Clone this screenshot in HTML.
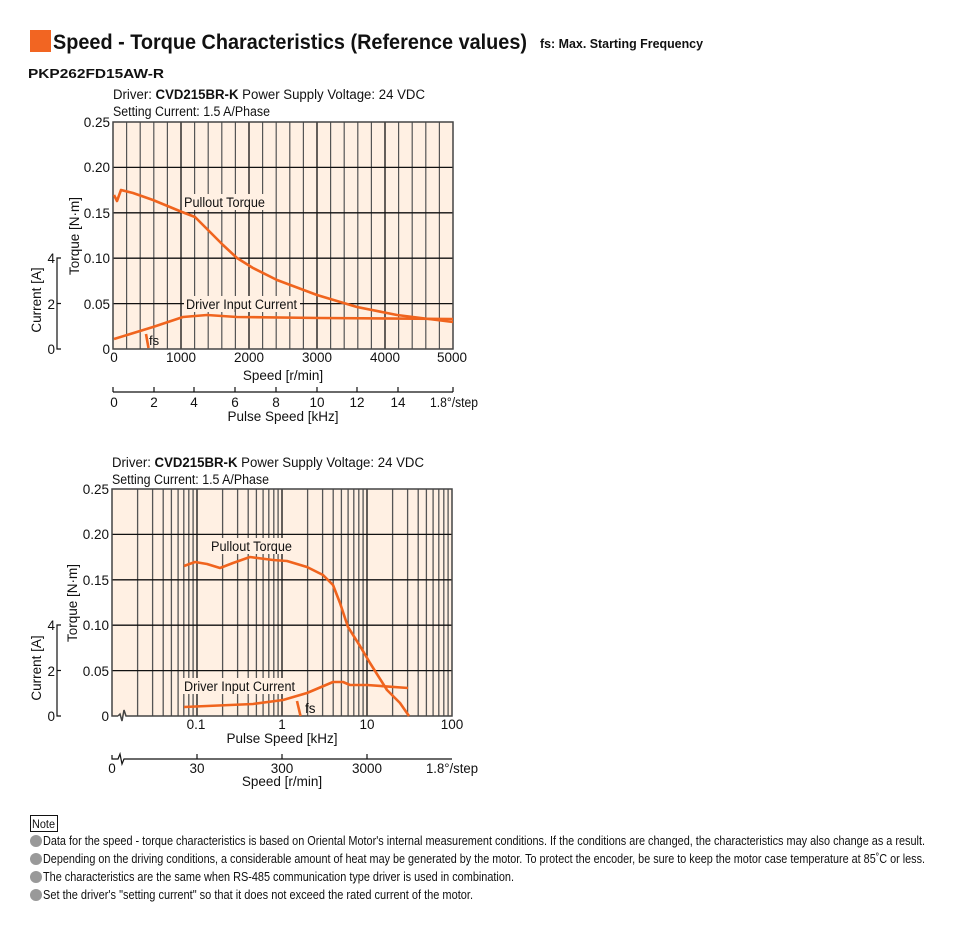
<!DOCTYPE html>
<html><head><meta charset="utf-8"><style>
html,body{margin:0;padding:0;background:#fff;}
svg{display:block;}
text{font-family:"Liberation Sans Narrow","Liberation Sans",sans-serif;fill:#111;}
</style></head><body>
<svg width="954" height="930" viewBox="0 0 954 930" xmlns="http://www.w3.org/2000/svg">
<!-- header -->
<rect x="30" y="30" width="21" height="22" fill="#f26522"/>
<text x="53" y="49" font-size="21" font-weight="bold" textLength="474" lengthAdjust="spacingAndGlyphs">Speed - Torque Characteristics (Reference values)</text>
<text x="540" y="48" font-size="13" font-weight="bold" textLength="163" lengthAdjust="spacingAndGlyphs">fs: Max. Starting Frequency</text>
<text x="28" y="78" font-size="13" font-weight="bold" style="font-family:'Liberation Sans',sans-serif" textLength="136" lengthAdjust="spacingAndGlyphs">PKP262FD15AW-R</text>

<!-- ============ TOP CHART ============ -->
<g font-size="13.5">
<text x="113" y="99" textLength="312" lengthAdjust="spacingAndGlyphs">Driver: <tspan font-weight="bold" style="font-family:'Liberation Sans',sans-serif">CVD215BR-K</tspan>  Power Supply Voltage: 24 VDC</text>
<text x="113" y="116" textLength="157" lengthAdjust="spacingAndGlyphs">Setting Current: 1.5 A/Phase</text>
</g>
<rect x="113" y="122" width="340" height="227" fill="#fff0e3"/>
<g stroke="#555" stroke-width="1.2">
<line x1="126.6" y1="122" x2="126.6" y2="349"/><line x1="140.2" y1="122" x2="140.2" y2="349"/><line x1="153.8" y1="122" x2="153.8" y2="349"/><line x1="167.4" y1="122" x2="167.4" y2="349"/>
<line x1="194.6" y1="122" x2="194.6" y2="349"/><line x1="208.2" y1="122" x2="208.2" y2="349"/><line x1="221.8" y1="122" x2="221.8" y2="349"/><line x1="235.4" y1="122" x2="235.4" y2="349"/>
<line x1="262.6" y1="122" x2="262.6" y2="349"/><line x1="276.2" y1="122" x2="276.2" y2="349"/><line x1="289.8" y1="122" x2="289.8" y2="349"/><line x1="303.4" y1="122" x2="303.4" y2="349"/>
<line x1="330.6" y1="122" x2="330.6" y2="349"/><line x1="344.2" y1="122" x2="344.2" y2="349"/><line x1="357.8" y1="122" x2="357.8" y2="349"/><line x1="371.4" y1="122" x2="371.4" y2="349"/>
<line x1="398.6" y1="122" x2="398.6" y2="349"/><line x1="412.2" y1="122" x2="412.2" y2="349"/><line x1="425.8" y1="122" x2="425.8" y2="349"/><line x1="439.4" y1="122" x2="439.4" y2="349"/>
</g>
<g stroke="#111" stroke-width="1.3">
<line x1="181" y1="122" x2="181" y2="349"/><line x1="249" y1="122" x2="249" y2="349"/><line x1="317" y1="122" x2="317" y2="349"/><line x1="385" y1="122" x2="385" y2="349"/>
<line x1="113" y1="167.4" x2="453" y2="167.4"/><line x1="113" y1="212.8" x2="453" y2="212.8"/><line x1="113" y1="258.2" x2="453" y2="258.2"/><line x1="113" y1="303.6" x2="453" y2="303.6"/>
</g>
<rect x="113" y="122" width="340" height="227" fill="none" stroke="#444" stroke-width="1.5"/>
<rect x="182" y="194" width="86" height="16" fill="#fff0e3"/>
<text x="184" y="207" font-size="13.5" textLength="81" lengthAdjust="spacingAndGlyphs">Pullout Torque</text>
<rect x="184" y="296" width="116" height="16" fill="#fff0e3"/>
<text x="186" y="309" font-size="13.5" textLength="111" lengthAdjust="spacingAndGlyphs">Driver Input Current</text>
<text x="149" y="345" font-size="13">fs</text>
<g fill="none" stroke="#f0641e" stroke-width="2.6" stroke-linejoin="round">
<polyline points="114,195 117,201 121,190 133,193 153,200 182,212 195,217 210,232 223,245 237,258 253,268 277,280 317,295 357,307 397,315 453,322"/>
<polyline points="114,339 153,327 183,317 207,315 237,317 320,318 453,319"/>
<line x1="146" y1="334" x2="148.5" y2="348"/>
</g>
<g font-size="13.5" text-anchor="end">
<text x="110" y="127">0.25</text><text x="110" y="172">0.20</text><text x="110" y="218">0.15</text><text x="110" y="263">0.10</text><text x="110" y="309">0.05</text><text x="110" y="354">0</text>
</g>
<g font-size="13.5" text-anchor="middle">
<text x="114" y="362">0</text><text x="181" y="362">1000</text><text x="249" y="362">2000</text><text x="317" y="362">3000</text><text x="385" y="362">4000</text><text x="452" y="362">5000</text>
<text x="283" y="380">Speed [r/min]</text>
</g>
<g stroke="#111" stroke-width="1.2">
<line x1="113" y1="392" x2="453" y2="392"/>
<line x1="113" y1="392" x2="113" y2="387"/><line x1="154" y1="392" x2="154" y2="387"/><line x1="194" y1="392" x2="194" y2="387"/><line x1="235" y1="392" x2="235" y2="387"/><line x1="276" y1="392" x2="276" y2="387"/><line x1="317" y1="392" x2="317" y2="387"/><line x1="357" y1="392" x2="357" y2="387"/><line x1="398" y1="392" x2="398" y2="387"/><line x1="453" y1="392" x2="453" y2="387"/>
</g>
<g font-size="13.5" text-anchor="middle">
<text x="114" y="407">0</text><text x="154" y="407">2</text><text x="194" y="407">4</text><text x="235" y="407">6</text><text x="276" y="407">8</text><text x="317" y="407">10</text><text x="357" y="407">12</text><text x="398" y="407">14</text>
<text x="283" y="421">Pulse Speed [kHz]</text>
</g>
<text x="430" y="407" font-size="13.5" textLength="48" lengthAdjust="spacingAndGlyphs">1.8°/step</text>
<text transform="translate(79,236) rotate(-90)" font-size="13.5" text-anchor="middle">Torque [N·m]</text>
<text transform="translate(41,300) rotate(-90)" font-size="13.5" text-anchor="middle">Current [A]</text>
<g stroke="#111" stroke-width="1.2" fill="none"><polyline points="61,258 57,258 57,349 61,349"/><line x1="57" y1="303.5" x2="61" y2="303.5"/></g>
<g font-size="13.5" text-anchor="end"><text x="55" y="263">4</text><text x="55" y="309">2</text><text x="55" y="354">0</text></g>

<!-- ============ BOTTOM CHART ============ -->
<g font-size="13.5">
<text x="112" y="467" textLength="312" lengthAdjust="spacingAndGlyphs">Driver: <tspan font-weight="bold" style="font-family:'Liberation Sans',sans-serif">CVD215BR-K</tspan>  Power Supply Voltage: 24 VDC</text>
<text x="112" y="484" textLength="157" lengthAdjust="spacingAndGlyphs">Setting Current: 1.5 A/Phase</text>
</g>
<rect x="112" y="489" width="340" height="227" fill="#fff0e3"/>
<g stroke="#555" stroke-width="1.3">
<line x1="137.6" y1="489" x2="137.6" y2="716"/><line x1="152.6" y1="489" x2="152.6" y2="716"/><line x1="163.2" y1="489" x2="163.2" y2="716"/><line x1="171.4" y1="489" x2="171.4" y2="716"/><line x1="178.1" y1="489" x2="178.1" y2="716"/><line x1="183.8" y1="489" x2="183.8" y2="716"/><line x1="188.8" y1="489" x2="188.8" y2="716"/><line x1="193.1" y1="489" x2="193.1" y2="716"/>
<line x1="222.6" y1="489" x2="222.6" y2="716"/><line x1="237.6" y1="489" x2="237.6" y2="716"/><line x1="248.2" y1="489" x2="248.2" y2="716"/><line x1="256.4" y1="489" x2="256.4" y2="716"/><line x1="263.1" y1="489" x2="263.1" y2="716"/><line x1="268.8" y1="489" x2="268.8" y2="716"/><line x1="273.8" y1="489" x2="273.8" y2="716"/><line x1="278.1" y1="489" x2="278.1" y2="716"/>
<line x1="307.6" y1="489" x2="307.6" y2="716"/><line x1="322.6" y1="489" x2="322.6" y2="716"/><line x1="333.2" y1="489" x2="333.2" y2="716"/><line x1="341.4" y1="489" x2="341.4" y2="716"/><line x1="348.1" y1="489" x2="348.1" y2="716"/><line x1="353.8" y1="489" x2="353.8" y2="716"/><line x1="358.8" y1="489" x2="358.8" y2="716"/><line x1="363.1" y1="489" x2="363.1" y2="716"/>
<line x1="392.6" y1="489" x2="392.6" y2="716"/><line x1="407.6" y1="489" x2="407.6" y2="716"/><line x1="418.2" y1="489" x2="418.2" y2="716"/><line x1="426.4" y1="489" x2="426.4" y2="716"/><line x1="433.1" y1="489" x2="433.1" y2="716"/><line x1="438.8" y1="489" x2="438.8" y2="716"/><line x1="443.8" y1="489" x2="443.8" y2="716"/><line x1="448.1" y1="489" x2="448.1" y2="716"/>
</g>
<g stroke="#111" stroke-width="1.3">
<line x1="197" y1="489" x2="197" y2="716"/><line x1="282" y1="489" x2="282" y2="716"/><line x1="367" y1="489" x2="367" y2="716"/>
<line x1="112" y1="534.4" x2="452" y2="534.4"/><line x1="112" y1="579.8" x2="452" y2="579.8"/><line x1="112" y1="625.2" x2="452" y2="625.2"/><line x1="112" y1="670.6" x2="452" y2="670.6"/>
</g>
<g fill="none" stroke="#444" stroke-width="1.5">
<polyline points="118,716 112,716 112,489 452,489 452,716 126,716 124,710 122,721 120,714 118,716"/>
</g>
<rect x="209" y="538" width="86" height="16" fill="#fff0e3"/>
<text x="211" y="551" font-size="13.5" textLength="81" lengthAdjust="spacingAndGlyphs">Pullout Torque</text>
<rect x="182" y="678" width="116" height="16" fill="#fff0e3"/>
<text x="184" y="691" font-size="13.5" textLength="111" lengthAdjust="spacingAndGlyphs">Driver Input Current</text>
<text x="305" y="713" font-size="13.5">fs</text>
<g fill="none" stroke="#f0641e" stroke-width="2.6" stroke-linejoin="round">
<polyline points="184,566 195,562 207,564 220,568 233,563 250,557 273,560 287,561 307,567 323,575 333,585 340,603 348,627 360,646 370,663 387,690 400,703 409,716"/>
<polyline points="184,707 253,704 283,700 307,693 333,682 343,682 350,685 367,685 408,688"/>
<line x1="297" y1="701" x2="300.5" y2="716"/>
</g>
<g font-size="13.5" text-anchor="end">
<text x="109" y="494">0.25</text><text x="109" y="539">0.20</text><text x="109" y="585">0.15</text><text x="109" y="630">0.10</text><text x="109" y="676">0.05</text><text x="109" y="721">0</text>
</g>
<g font-size="13.5" text-anchor="middle">
<text x="196" y="729">0.1</text><text x="282" y="729">1</text><text x="367" y="729">10</text><text x="452" y="729">100</text>
<text x="282" y="743">Pulse Speed [kHz]</text>
</g>
<g stroke="#111" stroke-width="1.2" fill="none">
<polyline points="112,755 112,759 118,759 120,754 122,764 124,759 452,759"/>
<line x1="197" y1="759" x2="197" y2="754"/><line x1="282" y1="759" x2="282" y2="754"/><line x1="367" y1="759" x2="367" y2="754"/>
</g>
<g font-size="13.5" text-anchor="middle">
<text x="112" y="773">0</text><text x="197" y="773">30</text><text x="282" y="773">300</text><text x="367" y="773">3000</text>
<text x="282" y="786">Speed [r/min]</text>
</g>
<text x="426" y="773" font-size="13.5" textLength="52" lengthAdjust="spacingAndGlyphs">1.8°/step</text>
<text transform="translate(77,603) rotate(-90)" font-size="13.5" text-anchor="middle">Torque [N·m]</text>
<text transform="translate(41,668) rotate(-90)" font-size="13.5" text-anchor="middle">Current [A]</text>
<g stroke="#111" stroke-width="1.2" fill="none"><polyline points="61,625 57,625 57,716 61,716"/><line x1="57" y1="670.5" x2="61" y2="670.5"/></g>
<g font-size="13.5" text-anchor="end"><text x="55" y="630">4</text><text x="55" y="676">2</text><text x="55" y="721">0</text></g>

<!-- notes -->
<rect x="30.5" y="815.5" width="27" height="16" fill="none" stroke="#111" stroke-width="1"/>
<text x="32" y="828" font-size="11.5" textLength="23" lengthAdjust="spacingAndGlyphs">Note</text>
<g fill="#999"><circle cx="36" cy="841" r="6"/><circle cx="36" cy="859" r="6"/><circle cx="36" cy="877" r="6"/><circle cx="36" cy="895" r="6"/></g>
<g font-size="12.5">
<text x="43" y="845" textLength="882" lengthAdjust="spacingAndGlyphs">Data for the speed - torque characteristics is based on Oriental Motor's internal measurement conditions. If the conditions are changed, the characteristics may also change as a result.</text>
<text x="43" y="863" textLength="882" lengthAdjust="spacingAndGlyphs">Depending on the driving conditions, a considerable amount of heat may be generated by the motor. To protect the encoder, be sure to keep the motor case temperature at 85˚C or less.</text>
<text x="43" y="881" textLength="471" lengthAdjust="spacingAndGlyphs">The characteristics are the same when RS-485 communication type driver is used in combination.</text>
<text x="43" y="899" textLength="430" lengthAdjust="spacingAndGlyphs">Set the driver's "setting current" so that it does not exceed the rated current of the motor.</text>
</g>
</svg>
</body></html>
